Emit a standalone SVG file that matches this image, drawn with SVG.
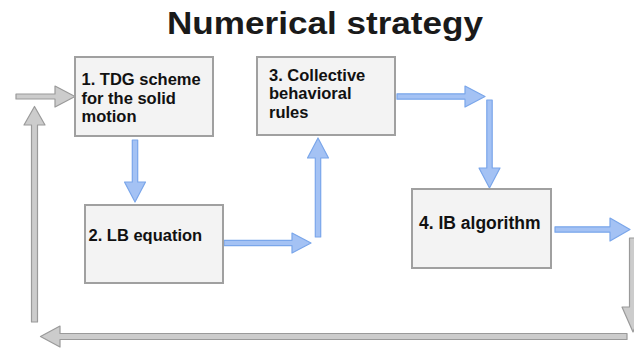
<svg xmlns="http://www.w3.org/2000/svg" width="634" height="349" viewBox="0 0 634 349">
  <style>
    .box { fill: #f3f3f3; stroke: #a0a0a0; stroke-width: 2; }
    .label { font-family: "Liberation Sans", Arial, sans-serif; font-weight: bold; font-size: 16.5px; fill: #111111; }
    .label-lg { font-size: 17.5px; }
    .title { font-family: "Liberation Sans", Arial, sans-serif; font-weight: bold; font-size: 32px; fill: #1a1a1a; }
    .blue { fill: #a4c2f4; stroke: #7aa6ea; stroke-width: 1.2; stroke-linejoin: round; }
    .gray { fill: #cccccc; stroke: #9a9a9a; stroke-width: 1.2; stroke-linejoin: round; }
  </style>

  <rect width="634" height="349" fill="#ffffff"/>

  <text class="title" x="167" y="34" textLength="316" lengthAdjust="spacingAndGlyphs">Numerical strategy</text>

  <g id="connectors">
    <!-- entry arrow into step 1 -->
    <path class="gray" d="M16,94 H55 V86 L75,96.5 L55,107 V99 H16 Z"/>
    <!-- step 1 to step 2 -->
    <path class="blue" d="M132.3,140 V182 H124.5 L135,202 L145.5,182 H137.7 V140 Z"/>
    <!-- step 2 onward -->
    <path class="blue" d="M224,240.3 H292 V233 L311,243 L292,253 V245.7 H224 Z"/>
    <!-- rising into step 3 -->
    <path class="blue" d="M315.3,237 V158 H307.5 L318,138 L328.5,158 H320.7 V237 Z"/>
    <!-- step 3 onward -->
    <path class="blue" d="M397,93.8 H465 V86 L485,96.5 L465,107 V99.2 H397 Z"/>
    <!-- descending into step 4 -->
    <path class="blue" d="M486.8,100 V168 H479 L489.5,188 L500,168 H492.2 V100 Z"/>
    <!-- step 4 onward -->
    <path class="blue" d="M555,226.8 H610 V218 L630,229.5 L610,241 V232.2 H555 Z"/>
    <!-- loop back: down the right edge -->
    <path class="gray" d="M629.5,238 V307 H622 L633,332 L644,307 H636.5 V238 Z"/>
    <!-- loop back: along the bottom -->
    <path class="gray" d="M627,333.5 H60 V326 L40.5,336.5 L60,347 V339.5 H627 Z"/>
    <!-- loop back: up the left edge -->
    <path class="gray" d="M31.5,322 V125 H24 L34.5,106.5 L45,125 H37.5 V322 Z"/>
  </g>

  <g id="node-1">
    <rect class="box" x="75" y="57" width="138" height="79"/>
    <text class="label" x="81.5" y="85">1. TDG scheme</text>
    <text class="label" x="81.5" y="103.5">for the solid</text>
    <text class="label" x="81.5" y="122">motion</text>
  </g>

  <g id="node-2">
    <rect class="box" x="85" y="205" width="138" height="78"/>
    <text class="label" x="88.5" y="240.5">2. LB equation</text>
  </g>

  <g id="node-3">
    <rect class="box" x="257" y="57" width="138" height="78"/>
    <text class="label" x="269" y="80.5">3. Collective</text>
    <text class="label" x="269" y="99">behavioral</text>
    <text class="label" x="269" y="117.5">rules</text>
  </g>

  <g id="node-4">
    <rect class="box" x="412" y="189" width="139" height="79"/>
    <text class="label label-lg" x="419" y="229">4. IB algorithm</text>
  </g>
</svg>
